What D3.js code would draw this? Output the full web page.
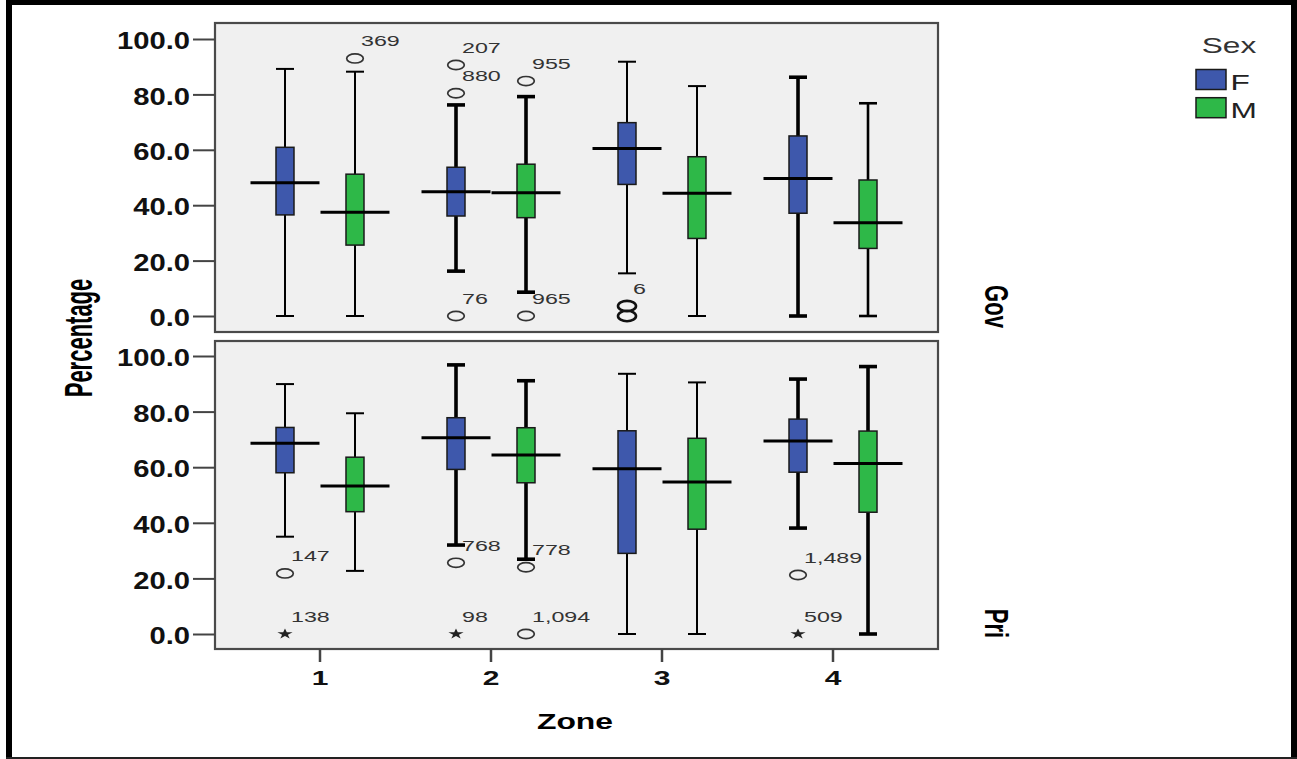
<!DOCTYPE html>
<html>
<head>
<meta charset="utf-8">
<script src="https://cdn.jsdelivr.net/npm/d3@7"></script>
<style>
html,body{margin:0;padding:0;background:#fff;}
svg{display:block;}
</style>
</head>
<body>
<svg id="chart" width="1297" height="759"></svg>
<script>
// ---------------- DATA ----------------
const zones = ['1', '2', '3', '4'];
const sexes = ['F', 'M'];
const panels = ['Gov', 'Pri'];
const yTicks = [0, 20, 40, 60, 80, 100];

// order of boxes: Z1F, Z1M, Z2F, Z2M, Z3F, Z3M, Z4F, Z4M
const boxZone = ['1', '1', '2', '2', '3', '3', '4', '4'];
const boxSex  = ['F', 'M', 'F', 'M', 'F', 'M', 'F', 'M'];

const govMin    = [0.0, 0.0, 16.2, 8.6, 15.4, 0.0, 0.0, 0.0];
const govQ1     = [36.5, 25.6, 36.1, 35.5, 47.5, 28.0, 37.1, 24.4];
const govMedian = [48.1, 37.5, 44.9, 44.5, 60.5, 44.3, 49.6, 33.7];
const govQ3     = [60.9, 51.2, 53.7, 54.8, 69.8, 57.5, 65.0, 49.1];
const govMax    = [89.2, 88.2, 76.2, 79.2, 91.8, 83.0, 86.2, 76.8];

const priMin    = [35.0, 22.7, 32.0, 26.9, 0.0, 0.0, 38.1, 0.0];
const priQ1     = [58.0, 44.0, 59.2, 54.4, 29.0, 37.7, 58.2, 43.8];
const priMedian = [68.6, 53.2, 70.6, 64.4, 59.4, 54.7, 69.4, 61.3];
const priQ3     = [74.3, 63.6, 77.8, 74.2, 73.1, 70.4, 77.3, 73.0];
const priMax    = [89.9, 79.4, 96.8, 91.1, 93.6, 90.5, 91.7, 96.2];

// outliers / extremes
const outPanel = ['Gov','Gov','Gov','Gov','Gov','Gov','Gov','Gov','Pri','Pri','Pri','Pri','Pri','Pri','Pri','Pri'];
const outZone  = ['1','2','2','2','2','2','3','3','1','1','2','2','2','2','4','4'];
const outSex   = ['M','F','F','F','M','M','F','F','F','F','F','F','M','M','F','F'];
const outValue = [93.0, 90.6, 80.4, 0.0, 84.8, 0.0, 3.6, 0.0, 21.8, 0.0, 25.6, 0.0, 24.0, 0.0, 21.2, 0.0];
const outLabel = ['369','207','880','76','955','965','6','','147','138','768','98','778','1,094','1,489','509'];
const outKind  = ['o','o','o','o','o','o','o','o','o','*','o','*','o','o','o','*'];

// ---------------- STYLE ----------------
const colors = {F: '#3E58AC', M: '#2EB848'};
const thin = 2, thick = 3.6;
const whiskerWeight = {
  Gov: [thin, thin, thick, thick, thin, thin, thick, 2.6],
  Pri: [thin, thin, thick, thick, thin, thin, thick, thick]
};
const FONT = '"Liberation Sans", Arial, Helvetica, sans-serif';

const stats = {
  Gov: {min: govMin, q1: govQ1, med: govMedian, q3: govQ3, max: govMax},
  Pri: {min: priMin, q1: priQ1, med: priMedian, q3: priQ3, max: priMax}
};

// ---------------- LAYOUT ----------------
const svg = d3.select('#chart');
const plotLeft = 215, plotRight = 938;
const panelBox = {
  Gov: {top: 23, bottom: 332, y0: 316, y100: 39},
  Pri: {top: 341, bottom: 649, y0: 634, y100: 356}
};

const x = d3.scaleBand(zones, [plotLeft, plotRight]).paddingInner(0).paddingOuter(0.114);
const sub = d3.scaleBand(sexes, [-70, 70]);
const cxOf = (z, s) => x(z) + x.bandwidth() / 2 + sub(s) + sub.bandwidth() / 2;

const yScales = {};
panels.forEach(p => {
  yScales[p] = d3.scaleLinear([0, 100], [panelBox[p].y0, panelBox[p].y100]);
});

// outer frame
svg.append('rect').attr('x', 0).attr('y', 0).attr('width', 1297).attr('height', 759).attr('fill', '#fff');
svg.append('rect').attr('x', 6).attr('y', 0).attr('width', 1291).attr('height', 5).attr('fill', '#000');
svg.append('rect').attr('x', 6).attr('y', 0).attr('width', 6).attr('height', 759).attr('fill', '#000');
svg.append('rect').attr('x', 1291).attr('y', 0).attr('width', 6).attr('height', 759).attr('fill', '#000');
svg.append('rect').attr('x', 6).attr('y', 757).attr('width', 1291).attr('height', 2).attr('fill', '#222');

function stext(parent, tx, ty, str, o) {
  const t = parent.append('text')
    .attr('transform', `translate(${tx},${ty}) scale(${o.sx || 1},1)` + (o.rot ? ` rotate(${o.rot})` : ''))
    .attr('font-family', FONT)
    .attr('font-size', o.size)
    .attr('font-weight', o.bold ? 'bold' : 'normal')
    .attr('text-anchor', o.anchor || 'start')
    .attr('fill', o.fill || '#000')
    .text(str);
  return t;
}

panels.forEach(p => {
  const pb = panelBox[p];
  const y = yScales[p];
  const g = svg.append('g');

  g.append('rect')
    .attr('x', plotLeft).attr('y', pb.top)
    .attr('width', plotRight - plotLeft).attr('height', pb.bottom - pb.top)
    .attr('fill', '#F0F0F0').attr('stroke', '#4a4a4a').attr('stroke-width', 2.2);

  // y axis
  const ax = g.append('g').attr('transform', `translate(${plotLeft},0)`)
    .call(d3.axisLeft(y).tickValues(yTicks).tickFormat(d3.format('.1f')).tickSize(22));
  ax.select('.domain').remove();
  ax.selectAll('.tick line').attr('stroke', '#444').attr('stroke-width', 2);
  ax.selectAll('.tick text')
    .attr('x', 0).attr('dy', '0.42em')
    .attr('transform', 'translate(-25,0) scale(1.27,1)')
    .attr('font-family', FONT).attr('font-size', 23).attr('font-weight', 'bold')
    .attr('fill', '#111').attr('text-anchor', 'end');

  const st = stats[p];
  const idx = d3.range(boxZone.length);

  // whiskers
  idx.forEach(i => {
    const cx = cxOf(boxZone[i], boxSex[i]);
    const w = whiskerWeight[p][i];
    g.append('line').attr('x1', cx).attr('x2', cx)
      .attr('y1', y(st.min[i])).attr('y2', y(st.max[i]))
      .attr('stroke', '#000').attr('stroke-width', w);
    [st.min[i], st.max[i]].forEach(v => {
      g.append('line').attr('x1', cx - 9).attr('x2', cx + 9)
        .attr('y1', y(v)).attr('y2', y(v))
        .attr('stroke', '#000').attr('stroke-width', w);
    });
  });

  // boxes
  g.selectAll('rect.box').data(idx).join('rect').attr('class', 'box')
    .attr('x', i => cxOf(boxZone[i], boxSex[i]) - 9)
    .attr('width', 18)
    .attr('y', i => y(st.q3[i]))
    .attr('height', i => y(st.q1[i]) - y(st.q3[i]))
    .attr('fill', i => colors[boxSex[i]])
    .attr('stroke', '#1a1a1a').attr('stroke-width', 1.5);

  // medians
  g.selectAll('line.med').data(idx).join('line').attr('class', 'med')
    .attr('x1', i => cxOf(boxZone[i], boxSex[i]) - 34.5)
    .attr('x2', i => cxOf(boxZone[i], boxSex[i]) + 34.5)
    .attr('y1', i => y(st.med[i])).attr('y2', i => y(st.med[i]))
    .attr('stroke', '#000').attr('stroke-width', 3);

  // outliers
  outValue.forEach((v, i) => {
    if (outPanel[i] !== p) return;
    const cx = cxOf(outZone[i], outSex[i]);
    const cy = y(v);
    if (outKind[i] === 'o') {
      const doubled = outZone[i] === '3';
      g.append('ellipse').attr('cx', cx).attr('cy', cy).attr('rx', doubled ? 9 : 8.3).attr('ry', doubled ? 5.2 : 4.6)
        .attr('fill', 'none').attr('stroke', doubled ? '#111' : '#333').attr('stroke-width', doubled ? 2.6 : 1.7);
    } else {
      g.append('path')
        .attr('d', d3.symbol(d3.symbolStar, 34)())
        .attr('transform', `translate(${cx},${cy}) scale(1.45,1)`)
        .attr('fill', '#222');
    }
    if (outLabel[i]) {
      stext(g, cx + 6, cy - 12, outLabel[i], {size: 15.5, sx: 1.5, fill: '#333'});
    }
  });

  // row label
  stext(svg, 985, pb.bottom - 25.5, p, {size: 22, bold: true, sx: 1.52, rot: 90, anchor: 'middle'});
});

// x axis
const xa = svg.append('g').attr('transform', `translate(0,${panelBox.Pri.bottom})`)
  .call(d3.axisBottom(x).tickSize(13));
xa.select('.domain').remove();
xa.selectAll('.tick line').attr('stroke', '#444').attr('stroke-width', 2.5);
xa.selectAll('.tick text')
  .attr('y', 0).attr('dy', 0)
  .attr('transform', 'translate(0,36) scale(1.5,1)')
  .attr('font-family', FONT).attr('font-size', 20).attr('font-weight', 'bold')
  .attr('fill', '#111').attr('text-anchor', 'middle');

// axis titles
stext(svg, 575, 729, 'Zone', {size: 22, bold: true, sx: 1.45, anchor: 'middle'});
stext(svg, 92, 338, 'Percentage', {size: 22, bold: true, sx: 1.75, rot: -90, anchor: 'middle'});

// legend
stext(svg, 1229, 52.5, 'Sex', {size: 22, sx: 1.44, anchor: 'middle', fill: '#333'});
sexes.forEach((s, i) => {
  const yy = 69.5 + i * 28.2;
  svg.append('rect').attr('x', 1196).attr('y', yy).attr('width', 30).attr('height', 20)
    .attr('fill', colors[s]).attr('stroke', '#1a1a1a').attr('stroke-width', 1.5);
  stext(svg, 1230.5, yy + 20.5, s, {size: 22, sx: 1.44, fill: '#222'});
});
</script>
</body>
</html>
